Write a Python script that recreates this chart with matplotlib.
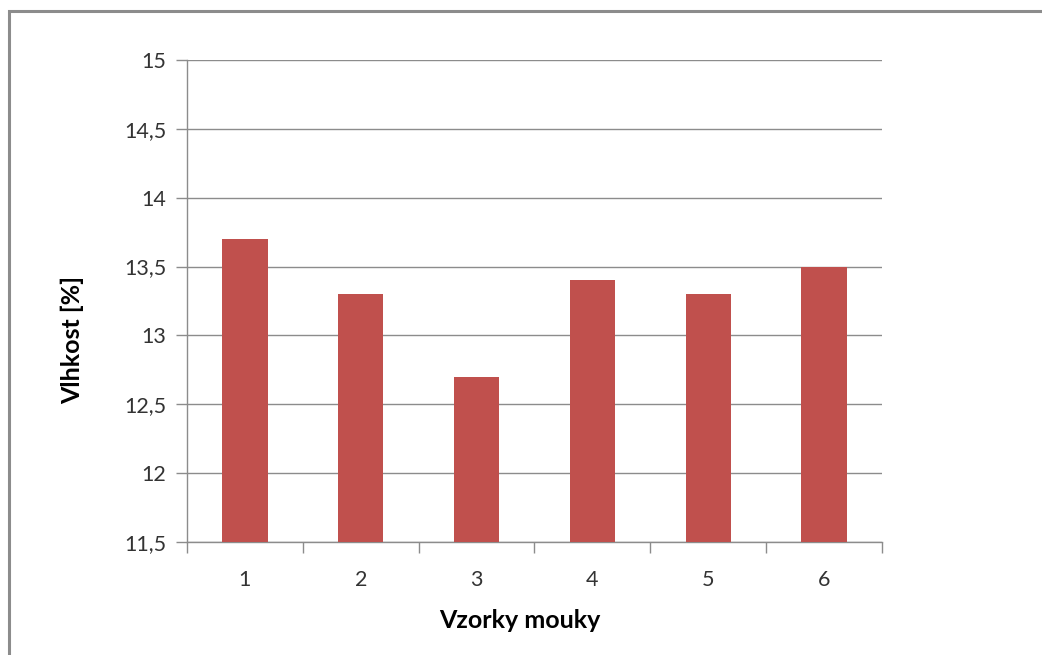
import matplotlib.pyplot as plt
from matplotlib.patches import Rectangle

# Moisture content of flour samples
samples = ['1', '2', '3', '4', '5', '6']
moisture = [13.7, 13.3, 12.7, 13.4, 13.3, 13.5]
y_ticks = [11.5, 12, 12.5, 13, 13.5, 14, 14.5, 15]
y_tick_labels = ['11,5', '12', '12,5', '13', '13,5', '14', '14,5', '15']

plt.rcParams['font.family'] = ['Lato', 'DejaVu Sans']

fig = plt.figure(figsize=(10.42, 6.55), dpi=100)
ax = fig.add_axes([0.1795, 0.1725, 0.6669, 0.7359])

# outer chart frame (left and top edges visible)
fig.patches.append(Rectangle((8.5 / 1042, -0.05), 1.1, 1 - 11 / 655 + 0.05,
                             transform=fig.transFigure, fill=False,
                             edgecolor='#8c8c8c', linewidth=2.2))

x = list(range(len(samples)))
ax.bar(x, moisture, width=0.39, bottom=0, color='#c0504d', zorder=3)

ax.set_xlim(-0.5, len(samples) - 0.5)
ax.set_ylim(11.5, 15)
ax.set_yticks(y_ticks)
ax.set_yticklabels(y_tick_labels)
ax.set_xticks(x)
ax.set_xticklabels(samples)

# category boundary ticks on x axis
ax.set_xticks([i - 0.5 for i in range(len(samples) + 1)], minor=True)
ax.tick_params(axis='x', which='major', length=0, pad=20, labelsize=15.5, colors='#333333')
ax.tick_params(axis='x', which='minor', length=8, width=1, color='#8c8c8c')
ax.tick_params(axis='y', length=8, width=1, color='#8c8c8c', pad=7, labelsize=15.5, labelcolor='#333333')

ax.grid(axis='y', color='#8c8c8c', linewidth=1, zorder=0)
for s in ['top', 'right']:
    ax.spines[s].set_visible(False)
for s in ['left', 'bottom']:
    ax.spines[s].set_color('#8c8c8c')
    ax.spines[s].set_linewidth(1)

ax.set_xlabel('Vzorky mouky', fontsize=18, fontweight='bold', va='center')
ax.set_ylabel('Vlhkost [%]', fontsize=18, fontweight='bold', va='center')
ax.xaxis.set_label_coords(0.479, -0.162)
ax.yaxis.set_label_coords(-0.1655, 0.42)

fig.savefig('out.png', dpi=100)
